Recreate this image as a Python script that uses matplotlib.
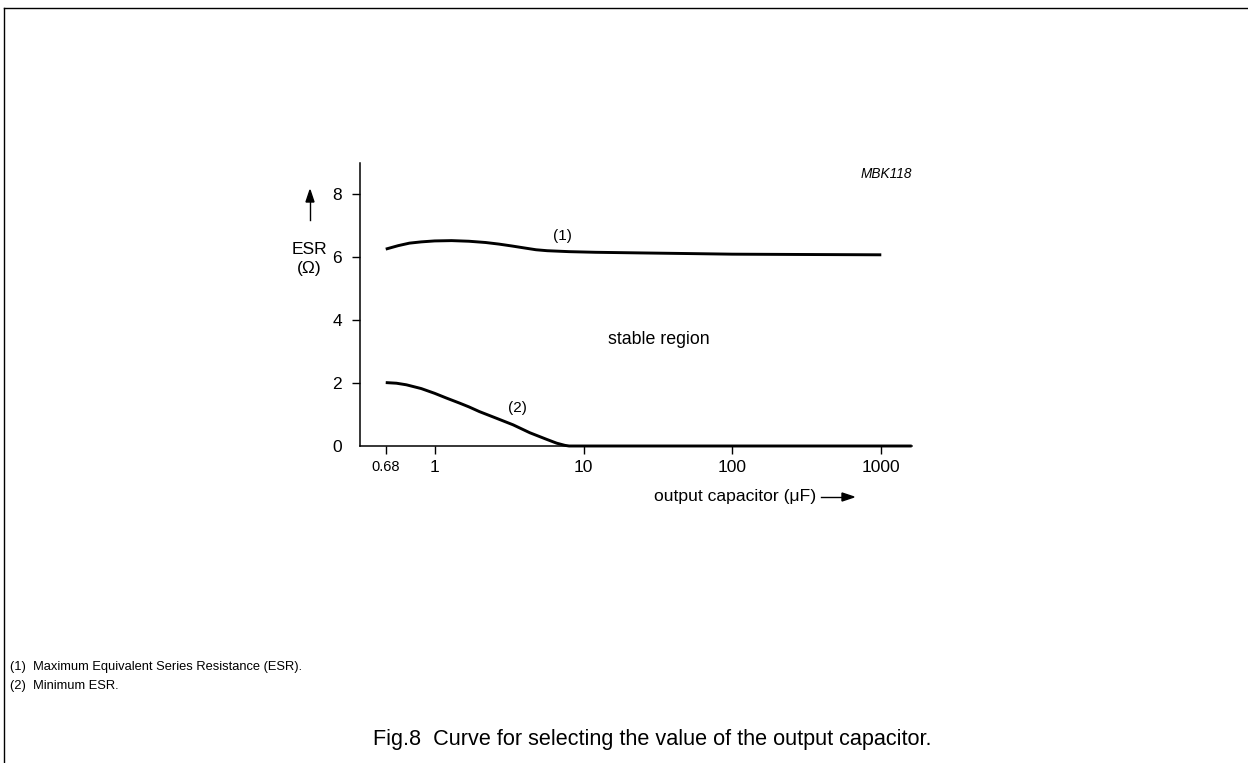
import numpy as np
import matplotlib.pyplot as plt

plt.rcParams['font.family'] = ['Liberation Sans', 'DejaVu Sans']

# curve (1): maximum ESR
cap_max = [0.68, 0.75, 0.82, 0.9, 1.0, 1.3, 1.7, 2.2, 2.7, 3.3, 4.1, 4.8, 5.7, 8, 12, 24, 50, 100, 300, 1000]
esr_max = [6.24, 6.35, 6.43, 6.47, 6.50, 6.51, 6.49, 6.45, 6.40, 6.34, 6.27, 6.22, 6.19, 6.16, 6.14, 6.12,
           6.10, 6.08, 6.07, 6.06]

# curve (2): minimum ESR
cap_min = [0.68, 0.74, 0.8, 0.9, 1.0, 1.2, 1.47, 1.7, 2.0, 2.6, 3.37, 4.36, 5.66, 6.6, 7.5, 8, 10, 100, 1000, 1600]
esr_min = [2.01, 1.99, 1.94, 1.82, 1.67, 1.52, 1.36, 1.24, 1.09, 0.88, 0.67, 0.42, 0.21, 0.09, 0.02, 0, 0, 0, 0, 0]

xticks = [0.68, 1, 10, 100, 1000]
xtick_labels = ["0.68", "1", "10", "100", "1000"]
yticks = [0, 2, 4, 6, 8]

# the decade below 1 is stretched in the original drawing
K = 1.96


def fwd(x):
    x = np.asarray(x, dtype=float)
    x = np.where(x > 0, x, 1e-9)
    lx = np.log10(x)
    return np.where(lx >= 0, lx, K * lx)


def inv(y):
    y = np.asarray(y, dtype=float)
    return np.where(y >= 0, 10 ** y, 10 ** (y / K))


W, H = 1248, 763
fig = plt.figure(figsize=(W / 100, H / 100), dpi=100)
ax = fig.add_axes([360 / W, 1 - 446 / H, (912 - 360) / W, (446 - 163) / H])

ax.set_xscale('function', functions=(fwd, inv))
ax.set_xlim(0.555, 1608)
ax.set_ylim(0, 8.97)

ax.plot(cap_max, esr_max, color='black', lw=2.1, solid_capstyle='butt', solid_joinstyle='round')
ax.plot(cap_min, esr_min, color='black', lw=2.1, solid_capstyle='butt', solid_joinstyle='round', clip_on=False)

for s in ['top', 'right']:
    ax.spines[s].set_visible(False)
for s in ['left', 'bottom']:
    ax.spines[s].set_linewidth(1.1)

ax.set_xticks(xticks)
ax.set_xticklabels(xtick_labels)
ax.xaxis.set_minor_locator(plt.NullLocator())
ax.set_yticks(yticks)
ax.tick_params(axis='both', direction='out', length=6, width=1, labelsize=12.5)
ax.tick_params(axis='y', pad=7)
ax.tick_params(axis='x', pad=4)
ax.get_xticklabels()[0].set_fontsize(10.5)
ax.yaxis.get_major_ticks()[0].tick1line.set_visible(False)

ax.text(7.17, 6.67, "(1)", ha='center', va='center', fontsize=11)
ax.text(3.6, 1.21, "(2)", ha='center', va='center', fontsize=11)
ax.text(32, 3.37, "stable region", ha='center', va='center', fontsize=12.8)
ax.text(1.0, 0.985, "MBK118", ha='right', va='top', fontsize=9.8, style='italic', transform=ax.transAxes)

# y label with arrow
fig.text(309 / W, 1 - 249 / H, "ESR", ha='center', va='center', fontsize=12.5)
fig.text(309 / W, 1 - 269 / H, "(\u03a9)", ha='center', va='center', fontsize=12.5)
fig.add_artist(plt.Line2D([310 / W, 310 / W], [1 - 220 / H, 1 - 200 / H], color='black', lw=1))
fig.patches.append(plt.Polygon([[306 / W, 1 - 202 / H], [314 / W, 1 - 202 / H], [310 / W, 1 - 190 / H]],
                               closed=True, color='black', transform=fig.transFigure))

# x label with arrow
fig.text(816 / W, 1 - 497 / H, "output capacitor (\u03bcF)", ha='right', va='center', fontsize=12.6)
fig.add_artist(plt.Line2D([821 / W, 845 / W], [1 - 497 / H, 1 - 497 / H], color='black', lw=1))
fig.patches.append(plt.Polygon([[842 / W, 1 - 493 / H], [842 / W, 1 - 501 / H], [854 / W, 1 - 497 / H]],
                               closed=True, color='black', transform=fig.transFigure))

# footnotes and caption
fig.text(10 / W, 1 - 667 / H, "(1)  Maximum Equivalent Series Resistance (ESR).", ha='left', va='center', fontsize=9.3)
fig.text(10 / W, 1 - 686 / H, "(2)  Minimum ESR.", ha='left', va='center', fontsize=9.3)
fig.text(652 / W, 1 - 739 / H, "Fig.8  Curve for selecting the value of the output capacitor.",
         ha='center', va='center', fontsize=15.6)

# page frame
fig.add_artist(plt.Line2D([4 / W, 1], [1 - 8 / H, 1 - 8 / H], color='black', lw=1))
fig.add_artist(plt.Line2D([4 / W, 4 / W], [0, 1 - 8 / H], color='black', lw=1))

fig.savefig("out.png", dpi=100)
